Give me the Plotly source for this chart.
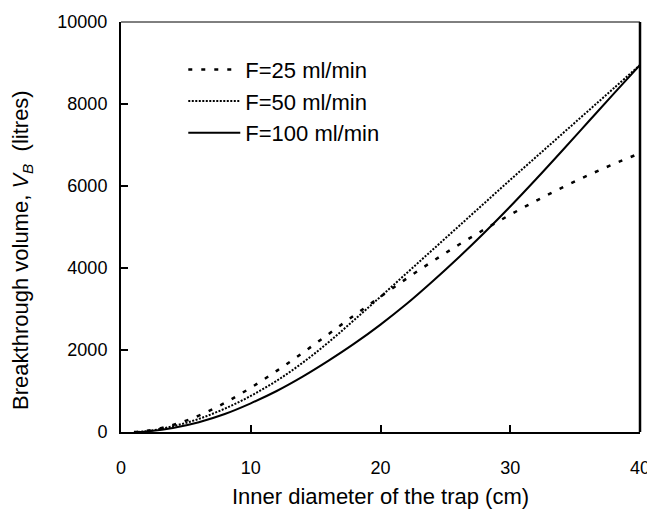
import plotly.graph_objects as go

# Inner diameter of the trap (cm)
diameter = [1, 2, 4, 6, 8, 10, 12, 14, 16, 18, 20, 22, 24, 26, 28, 30, 32, 34, 36, 38, 40]

# Breakthrough volume V_B (litres)
v_f25 = [0, 30, 170, 400, 710, 1080, 1490, 1930, 2390, 2850, 3300, 3740, 4160, 4560, 4940, 5300, 5640, 5960, 6260, 6540, 6800]
v_f50 = [0, 20, 140, 320, 570, 880, 1250, 1690, 2190, 2740, 3300, 3870, 4440, 5010, 5580, 6150, 6710, 7270, 7830, 8390, 8950]
v_f100 = [0, 15, 100, 240, 440, 700, 1000, 1350, 1740, 2160, 2620, 3120, 3670, 4250, 4860, 5500, 6170, 6860, 7560, 8260, 8950]

series_names = ["F=25 ml/min", "F=50 ml/min", "F=100 ml/min"]

x_ticks = [0, 10, 20, 30, 40]
y_ticks = [0, 2000, 4000, 6000, 8000, 10000]

fig = go.Figure()
fig.add_trace(go.Scatter(x=diameter, y=v_f25, mode="lines", name=series_names[0],
                         line=dict(color="black", width=2.5, dash="4px,9px", shape="spline")))
fig.add_trace(go.Scatter(x=diameter, y=v_f50, mode="lines", name=series_names[1],
                         line=dict(color="black", width=2, dash="2px,1.5px", shape="spline")))
fig.add_trace(go.Scatter(x=diameter, y=v_f100, mode="lines", name=series_names[2],
                         line=dict(color="black", width=2, shape="spline")))

font_family = "Liberation Sans, Arial, sans-serif"

# the page body adds an 8px margin, so the figure is 8px smaller each way
fig.update_layout(
    width=647, height=501,
    margin=dict(l=113, r=15, t=14, b=77, autoexpand=False),
    paper_bgcolor="white", plot_bgcolor="white",
    font=dict(family=font_family, color="black", size=18),
    showlegend=True,
    legend=dict(x=0.12, y=0.935, xanchor="left", yanchor="top",
                bgcolor="rgba(0,0,0,0)", font=dict(size=22), tracegroupgap=0,
                itemwidth=52),
    xaxis=dict(range=[0, 40], tickvals=x_ticks, ticktext=[str(v) for v in x_ticks],
               ticks="inside", ticklen=7, tickwidth=2, tickcolor="black",
               showline=True, linewidth=2, linecolor="black", mirror=False,
               showgrid=False, zeroline=False, ticklabelstandoff=18, automargin=False,
               title=dict(text="Inner diameter of the trap (cm)", font=dict(size=22), standoff=13)),
    yaxis=dict(range=[0, 10000], tickvals=y_ticks, ticktext=[str(v) for v in y_ticks],
               ticks="inside", ticklen=7, tickwidth=2, tickcolor="black",
               showline=True, linewidth=2, linecolor="black", mirror=False,
               showgrid=False, zeroline=False, ticklabelstandoff=8, automargin=False),
)

# y-axis title (placed slightly below the plot centre, as in the original)
fig.add_annotation(text="Breakthrough volume, <i>V</i><sub><i>B</i></sub>&nbsp;&nbsp;(litres)",
                   xref="paper", yref="paper", x=-0.1908, y=0.444,
                   xanchor="center", yanchor="middle", textangle=-90,
                   showarrow=False, font=dict(size=22, family=font_family, color="black"))

# top (thin) and right frame lines
fig.add_shape(type="line", xref="paper", yref="paper", x0=0, x1=1, y0=1, y1=1,
              line=dict(color="black", width=1))
fig.add_shape(type="line", xref="paper", yref="paper", x0=1, x1=1, y0=0, y1=1,
              line=dict(color="black", width=2.5))

fig.write_html("out.html")
